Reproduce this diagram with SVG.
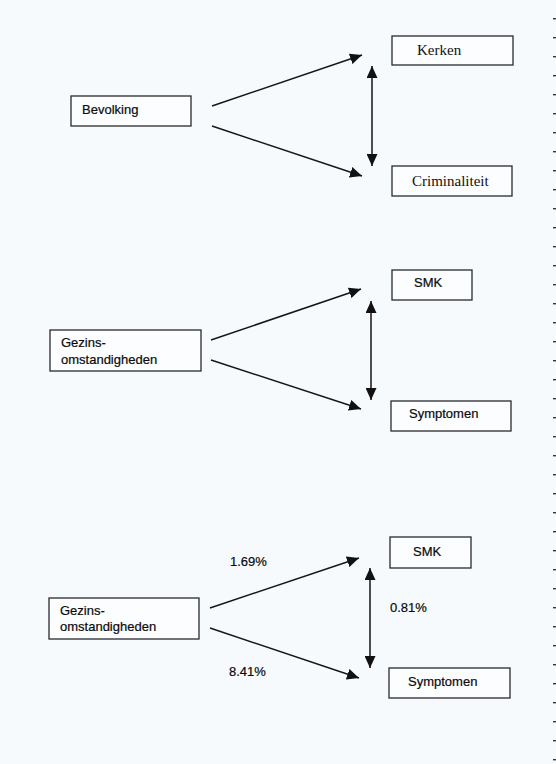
<svg xmlns="http://www.w3.org/2000/svg" width="556" height="764" viewBox="0 0 556 764">
<style>
.box{fill:#fbfdff;stroke:#2a2a2e;stroke-width:1.3}
.sans{font-family:"Liberation Sans",Arial,sans-serif;font-size:13px;fill:#0a0a0a;stroke:#0a0a0a;stroke-width:0.2}
.serif{font-family:"Liberation Serif","Times New Roman",serif;font-size:15px;fill:#111}
.ln{stroke:#151515;stroke-width:1.5;fill:none}
</style>
<defs>
<marker id="ah" viewBox="0 0 12 11" refX="12" refY="5.5" markerWidth="12" markerHeight="11" markerUnits="userSpaceOnUse" orient="auto-start-reverse">
<path d="M0,0 L12,5.5 L0,11 z" fill="#111"/>
</marker>
<pattern id="ticks" x="0" y="18" width="3" height="19" patternUnits="userSpaceOnUse">
<rect x="0" y="0" width="3" height="1.4" fill="#333"/>
</pattern>
</defs>
<rect width="556" height="764" fill="#f6fafd"/>
<rect x="553" y="17" width="3" height="747" fill="url(#ticks)"/>
<g id="connectors">
<line class="ln" x1="212" y1="106" x2="362" y2="55" marker-end="url(#ah)"/>
<line class="ln" x1="212" y1="126" x2="362" y2="176" marker-end="url(#ah)"/>
<line class="ln" x1="372" y1="66" x2="372" y2="166" marker-start="url(#ah)" marker-end="url(#ah)"/>
<line class="ln" x1="211" y1="340" x2="361" y2="289" marker-end="url(#ah)"/>
<line class="ln" x1="211" y1="360" x2="361" y2="409" marker-end="url(#ah)"/>
<line class="ln" x1="371" y1="301" x2="371" y2="400" marker-start="url(#ah)" marker-end="url(#ah)"/>
<line class="ln" x1="210" y1="608" x2="359" y2="558" marker-end="url(#ah)"/>
<line class="ln" x1="210" y1="628" x2="359" y2="678" marker-end="url(#ah)"/>
<line class="ln" x1="370" y1="568" x2="370" y2="668" marker-start="url(#ah)" marker-end="url(#ah)"/>
<text class="sans" x="230" y="566">1.69%</text>
<text class="sans" x="229" y="676">8.41%</text>
<text class="sans" x="390" y="612">0.81%</text>
</g>
<g id="bevolking"><rect class="box" x="71" y="96" width="120" height="30"/><text class="sans" x="82" y="114">Bevolking</text></g>
<g id="kerken"><rect class="box" x="392" y="36" width="121" height="29"/><text class="serif" x="417" y="55">Kerken</text></g>
<g id="criminaliteit"><rect class="box" x="392" y="166" width="120" height="30"/><text class="serif" x="412" y="186">Criminaliteit</text></g>
<g id="gezins1"><rect class="box" x="50" y="330" width="151" height="41"/><text class="sans" x="61" y="347">Gezins-</text><text class="sans" x="61" y="364">omstandigheden</text></g>
<g id="smk1"><rect class="box" x="392" y="270" width="80" height="30"/><text class="sans" x="414" y="287">SMK</text></g>
<g id="symptomen1"><rect class="box" x="391" y="401" width="120" height="30"/><text class="sans" x="409" y="418">Symptomen</text></g>
<g id="gezins2"><rect class="box" x="49" y="598" width="150" height="41"/><text class="sans" x="60" y="615">Gezins-</text><text class="sans" x="60" y="631">omstandigheden</text></g>
<g id="smk2"><rect class="box" x="390" y="537" width="81" height="31"/><text class="sans" x="413" y="556">SMK</text></g>
<g id="symptomen2"><rect class="box" x="389" y="668" width="121" height="30"/><text class="sans" x="408" y="686">Symptomen</text></g>
</svg>
